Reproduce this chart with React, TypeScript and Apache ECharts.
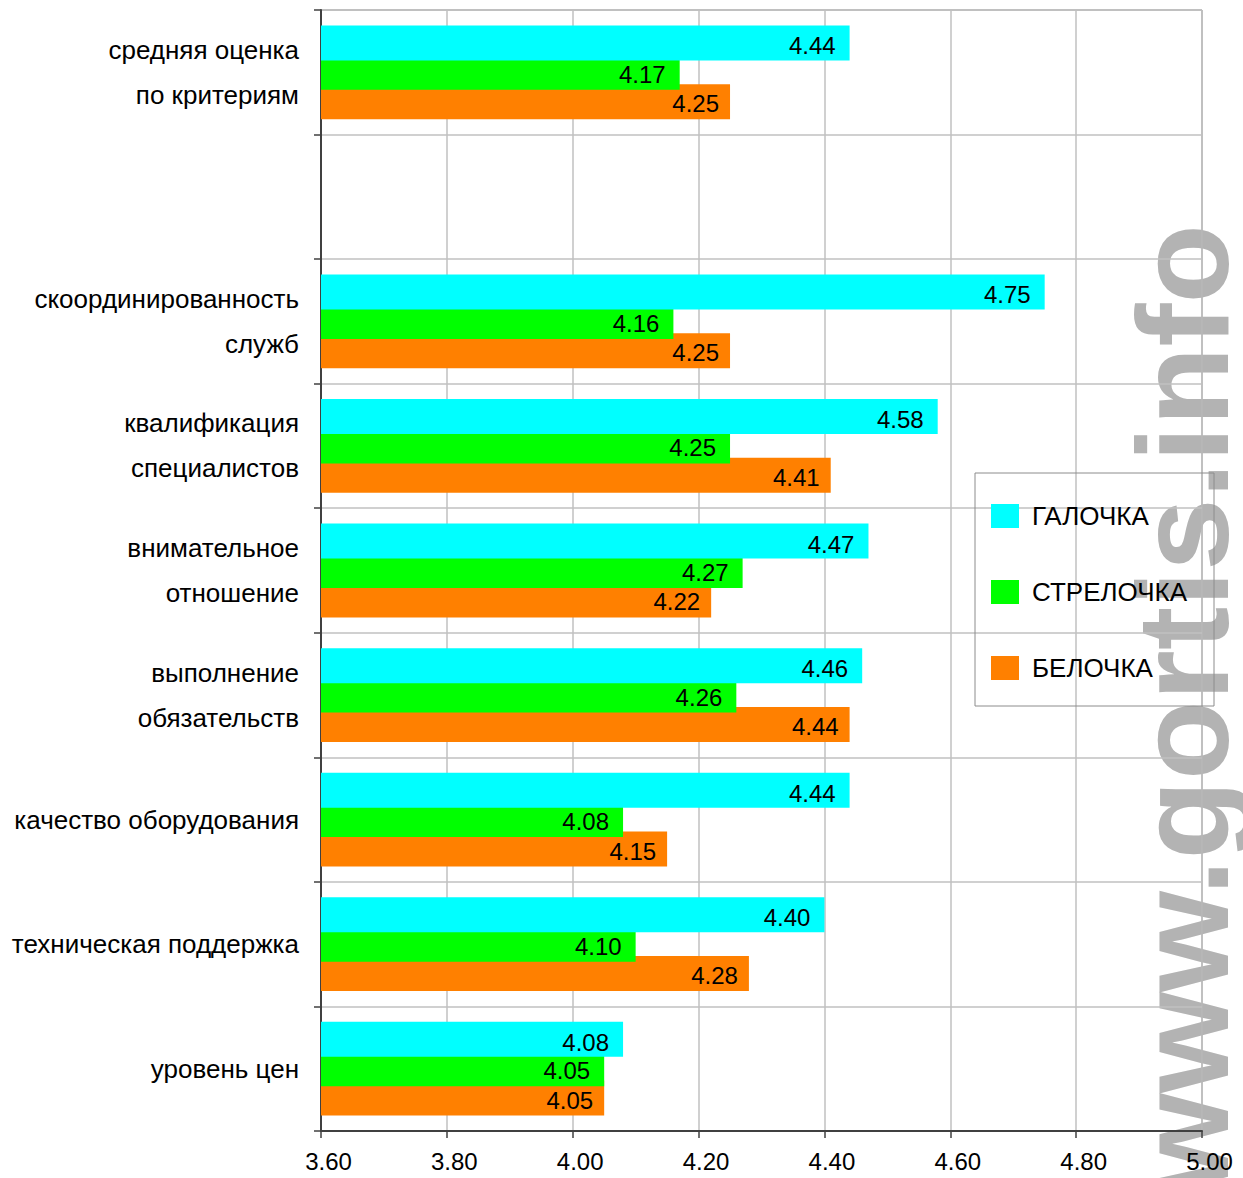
import React, { useEffect, useRef } from "react";
import * as echarts from "echarts";

const categories = [
  "средняя оценка\nпо критериям",
  "",
  "скоординированность\nслужб",
  "квалификация\nспециалистов",
  "внимательное\nотношение",
  "выполнение\nобязательств",
  "качество оборудования",
  "техническая поддержка",
  "уровень цен",
];

const seriesNames = ["ГАЛОЧКА", "СТРЕЛОЧКА", "БЕЛОЧКА"];
const galochka = [4.44, null, 4.75, 4.58, 4.47, 4.46, 4.44, 4.40, 4.08];
const strelochka = [4.17, null, 4.16, 4.25, 4.27, 4.26, 4.08, 4.10, 4.05];
const belochka = [4.25, null, 4.25, 4.41, 4.22, 4.44, 4.15, 4.28, 4.05];
const colors = ["#00FFFF", "#00FF00", "#FF8000"];
const xMin = 3.6;
const xMax = 5.0;
const xStep = 0.2;
const watermark = "www.gortis.info";

const FONT = "'Liberation Sans', Arial, sans-serif";

export default function App() {
  const ref = useRef<HTMLDivElement>(null);
  useEffect(() => {
    if (!ref.current) return;
    const chart = echarts.init(ref.current, null, { renderer: "svg" });
    const datas = [galochka, strelochka, belochka];
    const labelOffsets = [[0, 3], [0, 2], [0, 2]];
    const labelDist = [14, 14, 11];
    const zs = [6, 5, 4];
    chart.setOption({
      animation: false,
      textStyle: { fontFamily: FONT },
      grid: {
        left: 321,
        top: 10,
        right: 41,
        bottom: 47,
        show: true,
        borderColor: "#808080",
        borderWidth: 1,
        backgroundColor: "transparent",
      },
      graphic: [
        {
          type: "text",
          x: 1183,
          y: 224,
          rotation: Math.PI / 2,
          z: -10,
          zlevel: 0,
          silent: true,
          style: {
            text: watermark,
            fill: "#b3b3b3",
            font: `bold 130px ${FONT}`,
            textAlign: "right",
            textVerticalAlign: "middle",
            verticalAlign: "middle",
          },
        },
      ],
      legend: {
        orient: "vertical",
        left: 975,
        top: 473,
        padding: [30, 27, 25, 16],
        itemGap: 50,
        itemWidth: 28,
        itemHeight: 24,
        icon: "rect",
        borderColor: "#8c8c8c",
        borderWidth: 1,
        backgroundColor: "transparent",
        textStyle: { fontSize: 26, color: "#000", fontFamily: FONT, padding: [0, 0, 0, 8] },
        data: seriesNames,
      },
      xAxis: {
        type: "value",
        min: xMin,
        max: xMax,
        interval: xStep,
        axisLine: { show: true, lineStyle: { color: "#404040", width: 2 } },
        axisTick: { show: true, length: 7, lineStyle: { color: "#404040", width: 1.5 } },
        axisLabel: {
          color: "#000",
          fontSize: 24,
          fontFamily: FONT,
          margin: 18,
          padding: [0, 0, 0, 15],
          formatter: (v: number) => v.toFixed(2),
        },
        splitLine: { show: true, lineStyle: { color: "#c0c0c0", width: 1.5 } },
      },
      yAxis: {
        type: "category",
        inverse: true,
        data: categories,
        axisLine: { show: true, lineStyle: { color: "#404040", width: 2 } },
        axisTick: { show: true, length: 7, interval: 0, lineStyle: { color: "#404040", width: 1.5 } },
        axisLabel: {
          interval: 0,
          color: "#000",
          fontSize: 26,
          fontFamily: FONT,
          lineHeight: 45,
          margin: 22,
          align: "right",
          padding: [0, 0, 12, 0],
        },
        splitLine: { show: true, interval: 0, lineStyle: { color: "#c0c0c0", width: 1.5 } },
      },
      series: seriesNames.map((name, i) => ({
        name,
        type: "bar",
        data: datas[i],
        barWidth: 35,
        barGap: "-16%",
        z: zs[i],
        itemStyle: { color: colors[i] },
        label: {
          show: true,
          position: "insideRight",
          distance: labelDist[i],
          offset: labelOffsets[i],
          color: "#000",
          fontSize: 24,
          fontFamily: FONT,
          formatter: (p: any) => (p.value == null ? "" : Number(p.value).toFixed(2)),
        },
      })),
    });
    return () => chart.dispose();
  }, []);
  return (
    <div
      ref={ref}
      style={{ position: "absolute", left: 0, top: 0, width: 1243, height: 1178, background: "#fff" }}
    />
  );
}
